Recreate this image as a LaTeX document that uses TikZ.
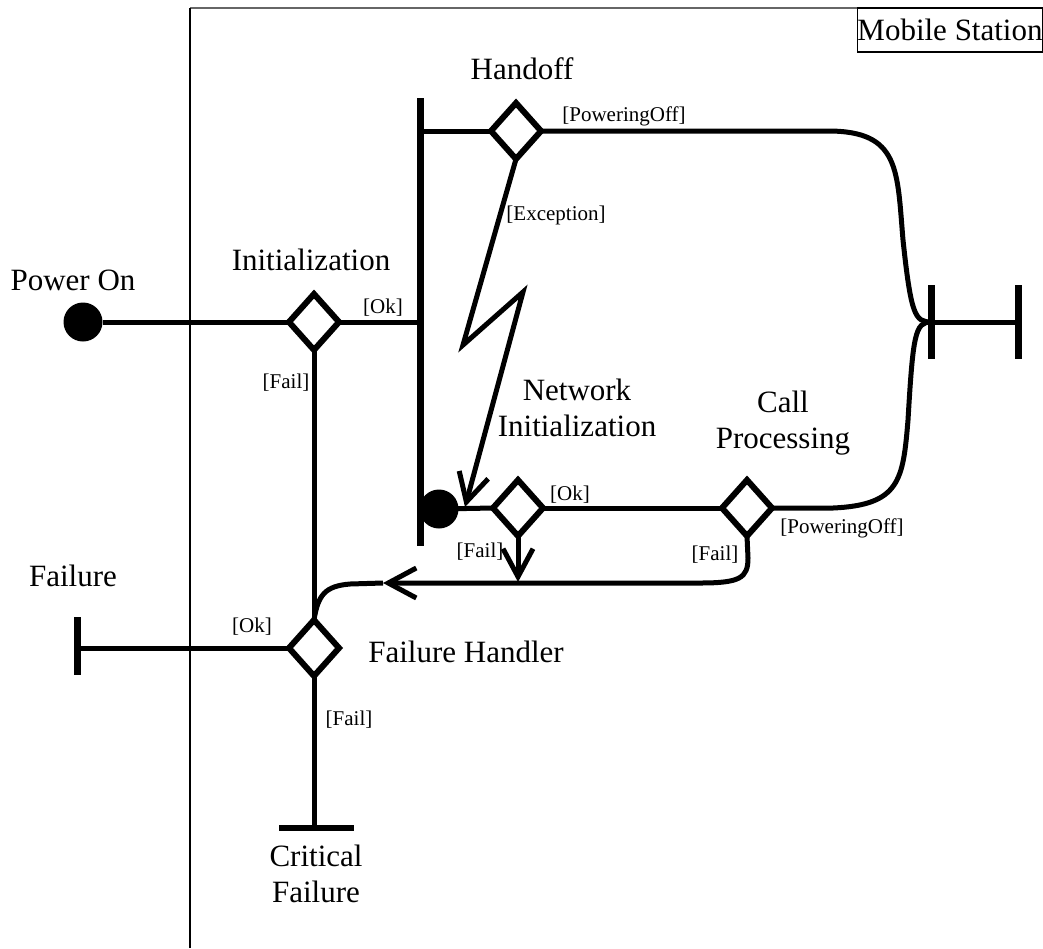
\documentclass[tikz,border=0pt]{standalone}
\usepackage{fontspec}
\setmainfont{Liberation Serif}
\usetikzlibrary{shapes.geometric,arrows.meta}
\begin{document}
\begin{tikzpicture}[x=0.5pt,y=-0.5pt,
  flow/.style={line width=2.5pt},
  dia/.style={diamond, draw, line width=3pt, minimum width=25pt, minimum height=28pt, inner sep=0pt, outer sep=0pt, fill=white},
  startdot/.style={circle, fill=black, minimum size=19.5pt, inner sep=0pt, outer sep=0pt},
  barv/.style={rectangle, fill=black, minimum width=3.5pt, inner sep=0pt, outer sep=0pt},
  barh/.style={rectangle, fill=black, minimum height=3pt, inner sep=0pt, outer sep=0pt},
  big/.style={font=\fontsize{15.5}{18}\selectfont, align=center, inner sep=0pt},
  small/.style={font=\fontsize{10.5}{12}\selectfont, inner sep=0pt},
  tip/.style={-{Straight Barb[length=14pt,width=15pt]}},
  frame/.style={line width=0.6pt}]
\useasboundingbox (0,0) rectangle (1043,948);

% swimlane frame
\draw[frame, black!60] (190,8) -- (1043,8);
\draw[frame] (190,948) -- (190,8);
\node[draw, frame, big, minimum width=92.5pt, minimum height=22pt] (ms) at (950,30) {Mobile Station};

% nodes
\node[startdot] (pon) at (83,322) {};
\node[dia] (init) at (314,322) {};
\node[barv, minimum height=224pt] (fork) at (420,322) {};
\node[dia] (ho) at (516,131) {};
\node[startdot] (nis) at (439,509) {};
\node[dia] (ni) at (518,508) {};
\node[dia] (cp) at (747,508) {};
\node[dia] (fh) at (314,648) {};
\node[barv, minimum height=29pt] (failterm) at (77,646) {};
\node[barh, minimum width=37.5pt] (crit) at (316,828) {};
\node[barv, minimum height=37pt] (j1) at (931,322) {};
\node[barv, minimum height=37pt] (j2) at (1018,322) {};
\coordinate (exctip) at (465,507);
\coordinate (backtip) at (383,583);
\coordinate (nifailtip) at (518,582);

% connectors
\draw[flow] (pon) -- (init.west);
\draw[flow] (init.east) -- (init.east -| fork.west);
\draw[flow] (ho.west -| fork.east) -- (ho.west);
\draw[flow] (ho.east) -- (828,131) .. controls (900,131) and (897,170) .. (903,240) .. controls (911,315) and (915,322) .. (j1.center);
\draw[flow, tip] (ho.south) -- (463,345) -- (523,292) -- (exctip);
\draw[flow] (nis.center) -- (ni.west);
\draw[flow] (ni.east) -- (cp.west);
\draw[flow] (cp.east) -- (833,508) .. controls (900,505) and (903,480) .. (908,420) .. controls (913,335) and (915,322) .. (j1.center);
\draw[flow] (j1) -- (j2);
\draw[flow, tip] (ni.south) -- (nifailtip);
\draw[flow, tip] (cp.south) -- (748,558) .. controls (748,578) and (740,583) .. (700,583) -- (backtip);
\draw[flow] (backtip) -- (350,584) .. controls (325,586) and (318,595) .. (fh.north);
\draw[flow] (init.south) -- (fh.north);
\draw[flow] (fh.west) -- (fh.west -| failterm.center);
\draw[flow] (fh.south) -- (fh.south |- crit.north);

% labels
\node[big] (tho) at (522,69) {Handoff};
\node[big] (tinit) at (311,260) {Initialization};
\node[big] (tpon) at (73,280) {Power On};
\node[big] (tni) at (577,408) {Network\\Initialization};
\node[big] (tcp) at (783,423) {Call\\Processing};
\node[big] (tfail) at (73,576) {Failure};
\node[big] (tfh) at (466,652) {Failure Handler};
\node[big] (tcf) at (316,874) {Critical\\Failure};

\node[small] (l1) at (624,116) {[PoweringOff]};
\node[small] (l2) at (556,215) {[Exception]};
\node[small] (l3) at (383,308) {[Ok]};
\node[small] (l4) at (286,383) {[Fail]};
\node[small] (l5) at (570,495) {[Ok]};
\node[small] (l6) at (480,552) {[Fail]};
\node[small] (l7) at (715,555) {[Fail]};
\node[small] (l8) at (842,528) {[PoweringOff]};
\node[small] (l9) at (252,627) {[Ok]};
\node[small] (l10) at (349,720) {[Fail]};
\end{tikzpicture}
\end{document}
